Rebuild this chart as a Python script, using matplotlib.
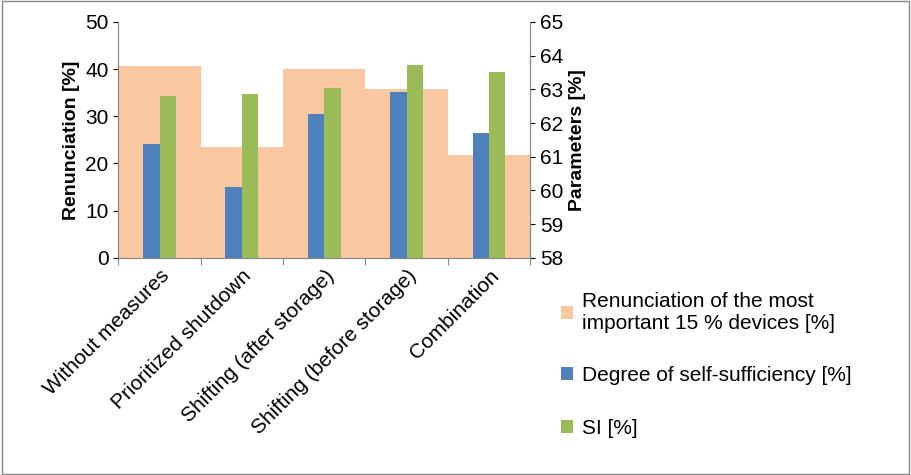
import matplotlib
matplotlib.use("Agg")
import matplotlib.pyplot as plt
import numpy as np

categories = ["Without measures", "Prioritized shutdown", "Shifting (after storage)",
              "Shifting (before storage)", "Combination"]
renunciation = [40.7, 23.5, 40.0, 35.8, 21.8]
self_sufficiency = [61.38, 60.1, 62.27, 62.92, 61.7]
si = [62.8, 62.86, 63.04, 63.72, 63.52]

plt.rcParams['font.family'] = ['Liberation Sans', 'DejaVu Sans']
fig = plt.figure(figsize=(9.11, 4.75), dpi=100)
ax = fig.add_axes([0.13, 0.457, 0.452, 0.497])
x = np.arange(len(categories))
ax.bar(x, renunciation, width=1.0, color="#FAC8A0", label="Renunciation of the most\nimportant 15 % devices [%]", zorder=1)
ax.set_xlim(-0.5, 4.5)
ax.set_ylim(0, 50)
ax.set_yticks(range(0, 51, 10))
ax.set_ylabel("Renunciation [%]", fontsize=14, fontweight="bold", labelpad=4)
ax.set_xticks(np.arange(-0.5, 5, 1), minor=False)
ax.set_xticklabels([])
ax.set_xticks(x, minor=True)
ax.set_xticklabels(categories, minor=True, rotation=45, ha="right", rotation_mode="anchor", fontsize=15)
ax.tick_params(axis="x", which="minor", length=0, pad=6)
ax.tick_params(axis="x", which="major", length=5, color="#888")
ax.tick_params(axis="y", labelsize=15)

ax2 = ax.twinx()
w = 0.2
ax2.bar(x - 0.1, self_sufficiency, width=w, color="#4F81BD", label="Degree of self-sufficiency [%]")
ax2.bar(x + 0.1, si, width=w, color="#9BBB59", label="SI [%]")
ax2.set_ylim(58, 65)
ax2.set_yticks(range(58, 66))
ax2.set_ylabel("Parameters [%]", fontsize=14, fontweight="bold", labelpad=4)
ax2.tick_params(axis="y", labelsize=15)
for a in (ax, ax2):
    a.spines["top"].set_visible(False)
    for s in ("left", "right", "bottom"):
        a.spines[s].set_color("#888")

h1, l1 = ax.get_legend_handles_labels()
h2, l2 = ax2.get_legend_handles_labels()
fig.legend(h1 + h2, l1 + l2, loc="upper left", bbox_to_anchor=(0.595, 0.425), frameon=False,
           fontsize=15, labelspacing=1.6, handlelength=0.6, handleheight=0.6, handletextpad=0.4)
fig.patches.append(plt.Rectangle((0.002, 0.002), 0.996, 0.996, transform=fig.transFigure,
                                 fill=False, edgecolor="#888", lw=1))
fig.savefig("out.png", dpi=100)
